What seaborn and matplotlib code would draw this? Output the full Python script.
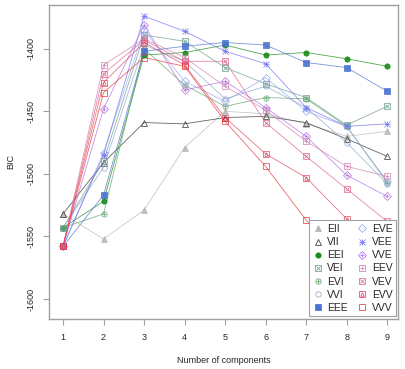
import matplotlib
matplotlib.use('Agg')
import matplotlib.pyplot as plt
from matplotlib.lines import Line2D
from matplotlib.legend_handler import HandlerTuple
import pandas as pd
import seaborn as sns

components = [1, 2, 3, 4, 5, 6, 7, 8, 9]

EII = [-1532, -1552, -1529, -1479, -1450, -1452, -1460, -1470, -1466]
VII = [-1532, -1491, -1459, -1460, -1455, -1454, -1459, -1472, -1486]
EEI = [-1543, -1522, -1405, -1403, -1397, -1405, -1403, -1408, -1414]
VEI = [-1543, -1490, -1389, -1394, -1415, -1428, -1439, -1461, -1446]
EVI = [-1543, -1532, -1400, -1429, -1446, -1439, -1440, -1462, -1507]
VVI = [-1543, -1495, -1397, -1410, -1440, -1430, -1447, -1475, -1508]
EEE = [-1558, -1517, -1402, -1398, -1395, -1397, -1411, -1415, -1434]
EVE = [-1558, -1483, -1385, -1426, -1442, -1423, -1450, -1462, -1506]
VEE = [-1558, -1485, -1374, -1386, -1402, -1412, -1447, -1462, -1460]
VVE = [-1558, -1448, -1381, -1433, -1426, -1447, -1470, -1501, -1518]
EEV = [-1558, -1413, -1392, -1407, -1430, -1449, -1474, -1494, -1502]
VEV = [-1558, -1420, -1393, -1410, -1410, -1459, -1486, -1512, -1538]
EVV = [-1558, -1427, -1395, -1413, -1455, -1484, -1503, -1536, -1561]
VVV = [-1558, -1435, -1407, -1414, -1458, -1494, -1537, -1576, -1607]

models = ['EII', 'VII', 'EEI', 'VEI', 'EVI', 'VVI', 'EEE',
          'EVE', 'VEE', 'VVE', 'EEV', 'VEV', 'EVV', 'VVV']
values = [EII, VII, EEI, VEI, EVI, VVI, EEE, EVE, VEE, VVE, EEV, VEV, EVV, VVV]

colors = {'EII': '#b8b8b8', 'VII': '#333333', 'EEI': '#1a8a1a', 'VEI': '#6b9c85',
          'EVI': '#62a36c', 'VVI': '#8aa8c8', 'EEE': '#4a72d0', 'EVE': '#90a8f0',
          'VEE': '#7070f0', 'VVE': '#b070e0', 'EEV': '#d080b0', 'VEV': '#e0608a',
          'EVV': '#e04860', 'VVV': '#e83838'}
# (marker, filled) pieces overlaid to mimic R pch symbols
symbols = {'EII': [('^', True)], 'VII': [('^', False)], 'EEI': [('o', True)],
           'VEI': [('s', False), ('x', False)], 'EVI': [('o', False), ('+', False)],
           'VVI': [('o', False)], 'EEE': [('s', True)], 'EVE': [('D', False)],
           'VEE': [('+', False), ('x', False)], 'VVE': [('D', False), ('+', False)],
           'EEV': [('s', False), ('+', False)], 'VEV': [('s', False), ('x', False)],
           'EVV': [('s', False), ('^', False)], 'VVV': [('s', False)]}

df = pd.DataFrame({'k': components * len(models),
                   'model': [m for m in models for _ in components],
                   'bic': [v for vals in values for v in vals]})

sns.set_theme(style='white')
plt.rcParams['font.family'] = ['Liberation Sans', 'DejaVu Sans']
plt.rcParams['axes.unicode_minus'] = False

fig = plt.figure(figsize=(4.05, 3.69), dpi=100)
ax = fig.add_axes([0.121, 0.1355, 0.862, 0.851])

sns.lineplot(data=df, x='k', y='bic', hue='model', palette=colors,
             linewidth=0.6, alpha=0.75, legend=False, ax=ax, sort=False,
             estimator=None)

handles = []
for m in models:
    sub = df[df['model'] == m]
    parts = []
    for mk, filled in symbols[m]:
        if len(symbols[m]) == 1:
            size = 3.8
        else:
            size = 3.8 if mk in ('s', 'o', 'D') else 2.6
        if m == 'VEE':
            size = 4.2
        kw = dict(marker=mk, linestyle='none', markersize=size, markeredgewidth=0.55,
                  color=colors[m])
        if not filled:
            kw['markerfacecolor'] = 'none'
        ax.plot(sub['k'], sub['bic'], alpha=0.9, **kw)
        parts.append(Line2D([], [], **kw))
    handles.append(tuple(parts))

ax.set_xlim(0.655, 9.27)
ax.set_ylim(-1616, -1365)
ax.set_xticks(components)
ax.set_yticks([-1600, -1550, -1500, -1450, -1400])
ax.set_xlabel('Number of components', fontsize=6.5, labelpad=10)
ax.set_ylabel('BIC', fontsize=6.5, labelpad=8)
ax.tick_params(axis='both', which='both', direction='out', length=4, width=0.8,
               color='#a0a0a0', labelsize=6.5, bottom=True, left=True, pad=6)
for lab in ax.get_yticklabels():
    lab.set_rotation(90)
    lab.set_va('center')
for s in ax.spines.values():
    s.set_color('#a0a0a0')
    s.set_linewidth(1.0)

leg = ax.legend(handles, models, ncol=2, loc='lower right',
                bbox_to_anchor=(0.994, 0.008), borderaxespad=0,
                fontsize=7.5, handlelength=1.0, handletextpad=0.4,
                columnspacing=0.9, labelspacing=0.3, borderpad=0.35,
                fancybox=False, framealpha=1,
                handler_map={tuple: HandlerTuple(ndivide=1, pad=0)})
leg.get_frame().set_edgecolor('#a0a0a0')
leg.get_frame().set_linewidth(0.8)

fig.savefig('out.png', dpi=100)
